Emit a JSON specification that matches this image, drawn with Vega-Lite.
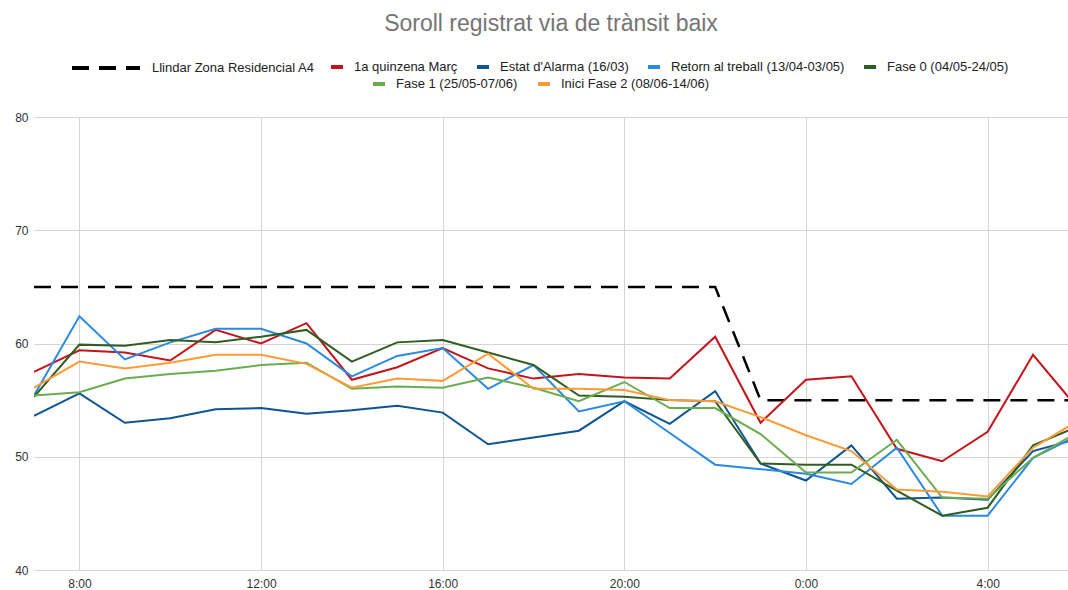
{
  "$schema": "https://vega.github.io/schema/vega-lite/v6.json",
  "width": 1034,
  "height": 453,
  "autosize": {"type": "none"},
  "padding": {"left": 34, "top": 117, "right": 0, "bottom": 20},
  "background": "white",
  "title": {
    "text": "Soroll registrat via de trànsit baix",
    "font": "Liberation Sans",
    "fontSize": 23,
    "fontWeight": "normal",
    "color": "#757575",
    "anchor": "middle",
    "frame": "group",
    "offset": -4
  },
  "config": {
    "view": {"stroke": null},
    "legend": {
      "labelFont": "Liberation Sans",
      "labelFontSize": 13,
      "labelColor": "#222222",
      "labelLimit": 400,
      "title": null
    }
  },
  "datasets": {
    "llindar": [
      {"serie": "Llindar Zona Residencial A4", "hora": 7, "dB": 65},
      {"serie": "Llindar Zona Residencial A4", "hora": 8, "dB": 65},
      {"serie": "Llindar Zona Residencial A4", "hora": 9, "dB": 65},
      {"serie": "Llindar Zona Residencial A4", "hora": 10, "dB": 65},
      {"serie": "Llindar Zona Residencial A4", "hora": 11, "dB": 65},
      {"serie": "Llindar Zona Residencial A4", "hora": 12, "dB": 65},
      {"serie": "Llindar Zona Residencial A4", "hora": 13, "dB": 65},
      {"serie": "Llindar Zona Residencial A4", "hora": 14, "dB": 65},
      {"serie": "Llindar Zona Residencial A4", "hora": 15, "dB": 65},
      {"serie": "Llindar Zona Residencial A4", "hora": 16, "dB": 65},
      {"serie": "Llindar Zona Residencial A4", "hora": 17, "dB": 65},
      {"serie": "Llindar Zona Residencial A4", "hora": 18, "dB": 65},
      {"serie": "Llindar Zona Residencial A4", "hora": 19, "dB": 65},
      {"serie": "Llindar Zona Residencial A4", "hora": 20, "dB": 65},
      {"serie": "Llindar Zona Residencial A4", "hora": 21, "dB": 65},
      {"serie": "Llindar Zona Residencial A4", "hora": 22, "dB": 65},
      {"serie": "Llindar Zona Residencial A4", "hora": 23, "dB": 55},
      {"serie": "Llindar Zona Residencial A4", "hora": 24, "dB": 55},
      {"serie": "Llindar Zona Residencial A4", "hora": 25, "dB": 55},
      {"serie": "Llindar Zona Residencial A4", "hora": 26, "dB": 55},
      {"serie": "Llindar Zona Residencial A4", "hora": 27, "dB": 55},
      {"serie": "Llindar Zona Residencial A4", "hora": 28, "dB": 55},
      {"serie": "Llindar Zona Residencial A4", "hora": 29, "dB": 55},
      {"serie": "Llindar Zona Residencial A4", "hora": 30, "dB": 55}
    ],
    "grupA": [
      {"serie": "1a quinzena Març", "hora": 7, "dB": 57.5},
      {"serie": "1a quinzena Març", "hora": 8, "dB": 59.4},
      {"serie": "1a quinzena Març", "hora": 9, "dB": 59.2},
      {"serie": "1a quinzena Març", "hora": 10, "dB": 58.5},
      {"serie": "1a quinzena Març", "hora": 11, "dB": 61.2},
      {"serie": "1a quinzena Març", "hora": 12, "dB": 60.0},
      {"serie": "1a quinzena Març", "hora": 13, "dB": 61.8},
      {"serie": "1a quinzena Març", "hora": 14, "dB": 56.8},
      {"serie": "1a quinzena Març", "hora": 15, "dB": 57.9},
      {"serie": "1a quinzena Març", "hora": 16, "dB": 59.6},
      {"serie": "1a quinzena Març", "hora": 17, "dB": 57.8},
      {"serie": "1a quinzena Març", "hora": 18, "dB": 56.9},
      {"serie": "1a quinzena Març", "hora": 19, "dB": 57.3},
      {"serie": "1a quinzena Març", "hora": 20, "dB": 57.0},
      {"serie": "1a quinzena Març", "hora": 21, "dB": 56.9},
      {"serie": "1a quinzena Març", "hora": 22, "dB": 60.6},
      {"serie": "1a quinzena Març", "hora": 23, "dB": 53.0},
      {"serie": "1a quinzena Març", "hora": 24, "dB": 56.8},
      {"serie": "1a quinzena Març", "hora": 25, "dB": 57.1},
      {"serie": "1a quinzena Març", "hora": 26, "dB": 50.7},
      {"serie": "1a quinzena Març", "hora": 27, "dB": 49.6},
      {"serie": "1a quinzena Març", "hora": 28, "dB": 52.2},
      {"serie": "1a quinzena Març", "hora": 29, "dB": 59.0},
      {"serie": "1a quinzena Març", "hora": 30, "dB": 54.2},
      {"serie": "Estat d'Alarma (16/03)", "hora": 7, "dB": 53.6},
      {"serie": "Estat d'Alarma (16/03)", "hora": 8, "dB": 55.6},
      {"serie": "Estat d'Alarma (16/03)", "hora": 9, "dB": 53.0},
      {"serie": "Estat d'Alarma (16/03)", "hora": 10, "dB": 53.4},
      {"serie": "Estat d'Alarma (16/03)", "hora": 11, "dB": 54.2},
      {"serie": "Estat d'Alarma (16/03)", "hora": 12, "dB": 54.3},
      {"serie": "Estat d'Alarma (16/03)", "hora": 13, "dB": 53.8},
      {"serie": "Estat d'Alarma (16/03)", "hora": 14, "dB": 54.1},
      {"serie": "Estat d'Alarma (16/03)", "hora": 15, "dB": 54.5},
      {"serie": "Estat d'Alarma (16/03)", "hora": 16, "dB": 53.9},
      {"serie": "Estat d'Alarma (16/03)", "hora": 17, "dB": 51.1},
      {"serie": "Estat d'Alarma (16/03)", "hora": 18, "dB": 51.7},
      {"serie": "Estat d'Alarma (16/03)", "hora": 19, "dB": 52.3},
      {"serie": "Estat d'Alarma (16/03)", "hora": 20, "dB": 54.9},
      {"serie": "Estat d'Alarma (16/03)", "hora": 21, "dB": 52.9},
      {"serie": "Estat d'Alarma (16/03)", "hora": 22, "dB": 55.8},
      {"serie": "Estat d'Alarma (16/03)", "hora": 23, "dB": 49.4},
      {"serie": "Estat d'Alarma (16/03)", "hora": 24, "dB": 47.9},
      {"serie": "Estat d'Alarma (16/03)", "hora": 25, "dB": 51.0},
      {"serie": "Estat d'Alarma (16/03)", "hora": 26, "dB": 46.3},
      {"serie": "Estat d'Alarma (16/03)", "hora": 27, "dB": 46.4},
      {"serie": "Estat d'Alarma (16/03)", "hora": 28, "dB": 46.2},
      {"serie": "Estat d'Alarma (16/03)", "hora": 29, "dB": 50.5},
      {"serie": "Estat d'Alarma (16/03)", "hora": 30, "dB": 51.6},
      {"serie": "Retorn al treball (13/04-03/05)", "hora": 7, "dB": 55.4},
      {"serie": "Retorn al treball (13/04-03/05)", "hora": 8, "dB": 62.4},
      {"serie": "Retorn al treball (13/04-03/05)", "hora": 9, "dB": 58.6},
      {"serie": "Retorn al treball (13/04-03/05)", "hora": 10, "dB": 60.1},
      {"serie": "Retorn al treball (13/04-03/05)", "hora": 11, "dB": 61.3},
      {"serie": "Retorn al treball (13/04-03/05)", "hora": 12, "dB": 61.3},
      {"serie": "Retorn al treball (13/04-03/05)", "hora": 13, "dB": 60.0},
      {"serie": "Retorn al treball (13/04-03/05)", "hora": 14, "dB": 57.1},
      {"serie": "Retorn al treball (13/04-03/05)", "hora": 15, "dB": 58.9},
      {"serie": "Retorn al treball (13/04-03/05)", "hora": 16, "dB": 59.6},
      {"serie": "Retorn al treball (13/04-03/05)", "hora": 17, "dB": 56.0},
      {"serie": "Retorn al treball (13/04-03/05)", "hora": 18, "dB": 58.1},
      {"serie": "Retorn al treball (13/04-03/05)", "hora": 19, "dB": 54.0},
      {"serie": "Retorn al treball (13/04-03/05)", "hora": 20, "dB": 54.9},
      {"serie": "Retorn al treball (13/04-03/05)", "hora": 21, "dB": 52.1},
      {"serie": "Retorn al treball (13/04-03/05)", "hora": 22, "dB": 49.3},
      {"serie": "Retorn al treball (13/04-03/05)", "hora": 23, "dB": 48.9},
      {"serie": "Retorn al treball (13/04-03/05)", "hora": 24, "dB": 48.5},
      {"serie": "Retorn al treball (13/04-03/05)", "hora": 25, "dB": 47.6},
      {"serie": "Retorn al treball (13/04-03/05)", "hora": 26, "dB": 50.8},
      {"serie": "Retorn al treball (13/04-03/05)", "hora": 27, "dB": 44.8},
      {"serie": "Retorn al treball (13/04-03/05)", "hora": 28, "dB": 44.8},
      {"serie": "Retorn al treball (13/04-03/05)", "hora": 29, "dB": 49.9},
      {"serie": "Retorn al treball (13/04-03/05)", "hora": 30, "dB": 51.9},
      {"serie": "Fase 0 (04/05-24/05)", "hora": 7, "dB": 55.3},
      {"serie": "Fase 0 (04/05-24/05)", "hora": 8, "dB": 59.9},
      {"serie": "Fase 0 (04/05-24/05)", "hora": 9, "dB": 59.8},
      {"serie": "Fase 0 (04/05-24/05)", "hora": 10, "dB": 60.3},
      {"serie": "Fase 0 (04/05-24/05)", "hora": 11, "dB": 60.1},
      {"serie": "Fase 0 (04/05-24/05)", "hora": 12, "dB": 60.6},
      {"serie": "Fase 0 (04/05-24/05)", "hora": 13, "dB": 61.2},
      {"serie": "Fase 0 (04/05-24/05)", "hora": 14, "dB": 58.4},
      {"serie": "Fase 0 (04/05-24/05)", "hora": 15, "dB": 60.1},
      {"serie": "Fase 0 (04/05-24/05)", "hora": 16, "dB": 60.3},
      {"serie": "Fase 0 (04/05-24/05)", "hora": 17, "dB": 59.2},
      {"serie": "Fase 0 (04/05-24/05)", "hora": 18, "dB": 58.1},
      {"serie": "Fase 0 (04/05-24/05)", "hora": 19, "dB": 55.4},
      {"serie": "Fase 0 (04/05-24/05)", "hora": 20, "dB": 55.3},
      {"serie": "Fase 0 (04/05-24/05)", "hora": 21, "dB": 55.0},
      {"serie": "Fase 0 (04/05-24/05)", "hora": 22, "dB": 54.9},
      {"serie": "Fase 0 (04/05-24/05)", "hora": 23, "dB": 49.4},
      {"serie": "Fase 0 (04/05-24/05)", "hora": 24, "dB": 49.3},
      {"serie": "Fase 0 (04/05-24/05)", "hora": 25, "dB": 49.3},
      {"serie": "Fase 0 (04/05-24/05)", "hora": 26, "dB": 47.0},
      {"serie": "Fase 0 (04/05-24/05)", "hora": 27, "dB": 44.8},
      {"serie": "Fase 0 (04/05-24/05)", "hora": 28, "dB": 45.5},
      {"serie": "Fase 0 (04/05-24/05)", "hora": 29, "dB": 51.0},
      {"serie": "Fase 0 (04/05-24/05)", "hora": 30, "dB": 52.7}
    ],
    "grupB": [
      {"serie": "Fase 1 (25/05-07/06)", "hora": 7, "dB": 55.4},
      {"serie": "Fase 1 (25/05-07/06)", "hora": 8, "dB": 55.7},
      {"serie": "Fase 1 (25/05-07/06)", "hora": 9, "dB": 56.9},
      {"serie": "Fase 1 (25/05-07/06)", "hora": 10, "dB": 57.3},
      {"serie": "Fase 1 (25/05-07/06)", "hora": 11, "dB": 57.6},
      {"serie": "Fase 1 (25/05-07/06)", "hora": 12, "dB": 58.1},
      {"serie": "Fase 1 (25/05-07/06)", "hora": 13, "dB": 58.3},
      {"serie": "Fase 1 (25/05-07/06)", "hora": 14, "dB": 56.0},
      {"serie": "Fase 1 (25/05-07/06)", "hora": 15, "dB": 56.2},
      {"serie": "Fase 1 (25/05-07/06)", "hora": 16, "dB": 56.1},
      {"serie": "Fase 1 (25/05-07/06)", "hora": 17, "dB": 57.0},
      {"serie": "Fase 1 (25/05-07/06)", "hora": 18, "dB": 56.1},
      {"serie": "Fase 1 (25/05-07/06)", "hora": 19, "dB": 54.9},
      {"serie": "Fase 1 (25/05-07/06)", "hora": 20, "dB": 56.6},
      {"serie": "Fase 1 (25/05-07/06)", "hora": 21, "dB": 54.3},
      {"serie": "Fase 1 (25/05-07/06)", "hora": 22, "dB": 54.3},
      {"serie": "Fase 1 (25/05-07/06)", "hora": 23, "dB": 52.0},
      {"serie": "Fase 1 (25/05-07/06)", "hora": 24, "dB": 48.6},
      {"serie": "Fase 1 (25/05-07/06)", "hora": 25, "dB": 48.6},
      {"serie": "Fase 1 (25/05-07/06)", "hora": 26, "dB": 51.5},
      {"serie": "Fase 1 (25/05-07/06)", "hora": 27, "dB": 46.4},
      {"serie": "Fase 1 (25/05-07/06)", "hora": 28, "dB": 46.3},
      {"serie": "Fase 1 (25/05-07/06)", "hora": 29, "dB": 49.9},
      {"serie": "Fase 1 (25/05-07/06)", "hora": 30, "dB": 52.2},
      {"serie": "Inici Fase 2 (08/06-14/06)", "hora": 7, "dB": 56.1},
      {"serie": "Inici Fase 2 (08/06-14/06)", "hora": 8, "dB": 58.4},
      {"serie": "Inici Fase 2 (08/06-14/06)", "hora": 9, "dB": 57.8},
      {"serie": "Inici Fase 2 (08/06-14/06)", "hora": 10, "dB": 58.3},
      {"serie": "Inici Fase 2 (08/06-14/06)", "hora": 11, "dB": 59.0},
      {"serie": "Inici Fase 2 (08/06-14/06)", "hora": 12, "dB": 59.0},
      {"serie": "Inici Fase 2 (08/06-14/06)", "hora": 13, "dB": 58.2},
      {"serie": "Inici Fase 2 (08/06-14/06)", "hora": 14, "dB": 56.1},
      {"serie": "Inici Fase 2 (08/06-14/06)", "hora": 15, "dB": 56.9},
      {"serie": "Inici Fase 2 (08/06-14/06)", "hora": 16, "dB": 56.7},
      {"serie": "Inici Fase 2 (08/06-14/06)", "hora": 17, "dB": 59.1},
      {"serie": "Inici Fase 2 (08/06-14/06)", "hora": 18, "dB": 56.0},
      {"serie": "Inici Fase 2 (08/06-14/06)", "hora": 19, "dB": 56.0},
      {"serie": "Inici Fase 2 (08/06-14/06)", "hora": 20, "dB": 55.9},
      {"serie": "Inici Fase 2 (08/06-14/06)", "hora": 21, "dB": 55.0},
      {"serie": "Inici Fase 2 (08/06-14/06)", "hora": 22, "dB": 54.9},
      {"serie": "Inici Fase 2 (08/06-14/06)", "hora": 23, "dB": 53.5},
      {"serie": "Inici Fase 2 (08/06-14/06)", "hora": 24, "dB": 51.9},
      {"serie": "Inici Fase 2 (08/06-14/06)", "hora": 25, "dB": 50.5},
      {"serie": "Inici Fase 2 (08/06-14/06)", "hora": 26, "dB": 47.1},
      {"serie": "Inici Fase 2 (08/06-14/06)", "hora": 27, "dB": 46.9},
      {"serie": "Inici Fase 2 (08/06-14/06)", "hora": 28, "dB": 46.5},
      {"serie": "Inici Fase 2 (08/06-14/06)", "hora": 29, "dB": 50.8},
      {"serie": "Inici Fase 2 (08/06-14/06)", "hora": 30, "dB": 53.2}
    ]
  },
  "encoding": {
    "x": {
      "field": "hora",
      "type": "quantitative",
      "scale": {"domain": [7, 29.77], "nice": false, "zero": false},
      "axis": {
        "title": null,
        "values": [8, 12, 16, 20, 24, 28],
        "labelExpr": "(datum.value % 24) + ':00'",
        "grid": true,
        "gridColor": "#d4d4d4",
        "domain": false,
        "ticks": false,
        "labelPadding": 8,
        "labelFont": "Liberation Sans",
        "labelFontSize": 12,
        "labelColor": "#333333"
      }
    },
    "y": {
      "field": "dB",
      "type": "quantitative",
      "scale": {"domain": [40, 80], "nice": false, "zero": false},
      "axis": {
        "title": null,
        "values": [40, 50, 60, 70, 80],
        "grid": true,
        "gridColor": "#d4d4d4",
        "domain": false,
        "ticks": false,
        "labelPadding": 6,
        "labelFont": "Liberation Sans",
        "labelFontSize": 12,
        "labelColor": "#333333"
      }
    }
  },
  "layer": [
    {
      "data": {"name": "llindar"},
      "mark": {"type": "line", "clip": true, "stroke": "#000000", "strokeWidth": 2.5},
      "encoding": {
        "strokeDash": {
          "field": "serie",
          "type": "nominal",
          "scale": {"domain": ["Llindar Zona Residencial A4"], "range": [[17, 10]]},
          "legend": {
            "orient": "none",
            "legendX": 36,
            "legendY": -85,
            "direction": "horizontal",
            "symbolType": "stroke",
            "symbolSize": 4624,
            "symbolStrokeWidth": 4,
            "symbolStrokeColor": "#000000",
            "labelOffset": 10,
            "encode": {"symbols": {"update": {"strokeDash": {"value": [27, 14]}, "stroke": {"value": "#000000"}}}}
          }
        }
      }
    },
    {
      "data": {"name": "grupA"},
      "mark": {"type": "line", "clip": true, "strokeWidth": 2},
      "encoding": {
        "color": {
          "field": "serie",
          "type": "nominal",
          "sort": null,
          "scale": {
            "domain": ["1a quinzena Març", "Estat d'Alarma (16/03)", "Retorn al treball (13/04-03/05)", "Fase 0 (04/05-24/05)"],
            "range": ["#c4141b", "#0d5592", "#2a8ae0", "#2f5d22"]
          },
          "legend": {
            "orient": "none",
            "legendX": 295,
            "legendY": -58,
            "direction": "horizontal",
            "symbolType": "stroke",
            "symbolSize": 144,
            "symbolStrokeWidth": 4,
            "labelOffset": 9,
            "columnPadding": 11
          }
        }
      }
    },
    {
      "data": {"name": "grupB"},
      "mark": {"type": "line", "clip": true, "strokeWidth": 2},
      "encoding": {
        "color": {
          "field": "serie",
          "type": "nominal",
          "sort": null,
          "scale": {
            "domain": ["Fase 1 (25/05-07/06)", "Inici Fase 2 (08/06-14/06)"],
            "range": ["#6aad50", "#ff9b36"]
          },
          "legend": {
            "orient": "none",
            "legendX": 337,
            "legendY": -41,
            "direction": "horizontal",
            "symbolType": "stroke",
            "symbolSize": 144,
            "symbolStrokeWidth": 4,
            "labelOffset": 9,
            "columnPadding": 12
          }
        }
      }
    }
  ],
  "resolve": {"scale": {"color": "independent"}}
}
